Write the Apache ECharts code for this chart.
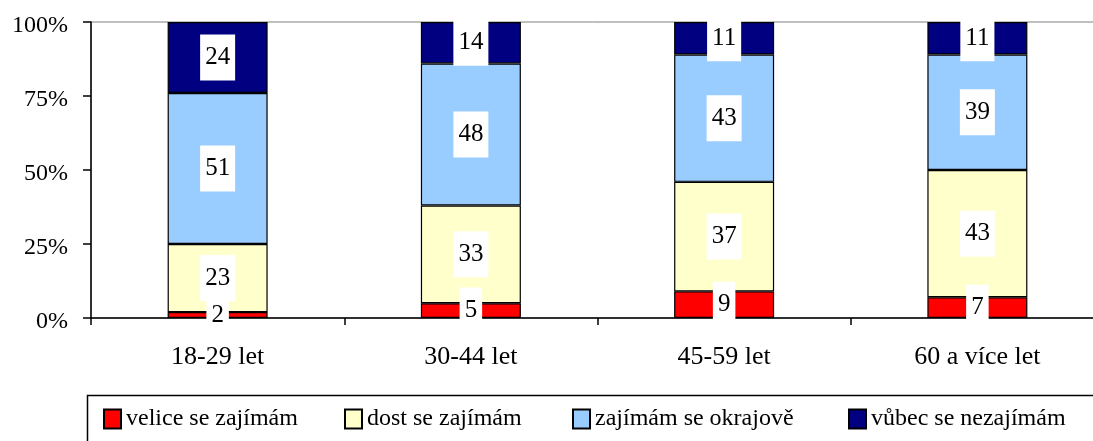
<!DOCTYPE html>
<html>
<head>
<meta charset="utf-8">
<script src="https://cdn.jsdelivr.net/npm/echarts@6/dist/echarts.min.js"></script>
<style>html,body{margin:0;padding:0;background:#fff}#c{width:1093px;height:441px}</style>
</head>
<body>
<div id="c"></div>
<script>
const categories = ['18-29 let', '30-44 let', '45-59 let', '60 a více let'];
const seriesNames = ['velice se zajímám', 'dost se zajímám', 'zajímám se okrajově', 'vůbec se nezajímám'];
const velice = [2, 5, 9, 7];
const dost = [23, 33, 37, 43];
const okrajove = [51, 48, 43, 39];
const vubec = [24, 14, 11, 11];
const yTicks = [0, 25, 50, 75, 100];
const colors = ['#FF0000', '#FFFFCC', '#99CCFF', '#000080'];
const values = [velice, dost, okrajove, vubec];
const legendLefts = [103, 344, 572, 848];

const font = 'Liberation Serif, Times New Roman, serif';
const chart = echarts.init(document.getElementById('c'), null, {renderer: 'canvas'});
chart.setOption({
  animation: false,
  textStyle: {fontFamily: font},
  grid: {left: 91, top: 22, width: 1013, height: 296, outerBoundsMode: 'none', containLabel: false,
    show: true, borderColor: '#808080', borderWidth: 1, backgroundColor: 'transparent'},
  xAxis: {
    type: 'category', data: categories,
    axisLine: {lineStyle: {color: '#000', width: 1.5}},
    axisTick: {show: true, length: 7, lineStyle: {color: '#000', width: 1.5}},
    axisLabel: {color: '#000', fontSize: 26, fontFamily: font, margin: 26}
  },
  yAxis: {
    type: 'value', min: 0, max: 100, interval: 25,
    axisLine: {show: true, lineStyle: {color: '#000', width: 1.5}},
    axisTick: {show: true, length: 8, lineStyle: {color: '#000', width: 1.5}},
    splitLine: {show: false},
    axisLabel: {color: '#000', fontSize: 24, fontFamily: font, margin: 23,
      formatter: v => yTicks.includes(v) ? '{p|' + v + '%}' : '',
      rich: {p: {fontSize: 24, fontFamily: font, color: '#000', padding: [8, 0, 0, 0]}}}
  },
  legend: seriesNames.map((n, i) => ({
    left: legendLefts[i], top: 407, itemWidth: 17, itemHeight: 19, padding: 0,
    icon: 'rect',
    textStyle: {color: '#000', fontSize: 24, fontFamily: font},
    data: [n]
  })),
  graphic: [{
    type: 'rect', left: 85, top: 393, shape: {width: 1100, height: 80},
    style: {fill: 'none', stroke: '#000', lineWidth: 1.5}, z: -1
  }],
  series: seriesNames.map((name, i) => ({
    name: name, type: 'bar', stack: 'total', data: values[i], barWidth: 100,
    itemStyle: {color: colors[i], borderColor: '#000', borderWidth: 1.2},
    label: {
      show: true, position: 'inside', color: '#000', fontSize: 25, fontFamily: font,
      backgroundColor: '#fff', padding: [12, 5, 9, 5]
    }
  }))
});
</script>
</body>
</html>
